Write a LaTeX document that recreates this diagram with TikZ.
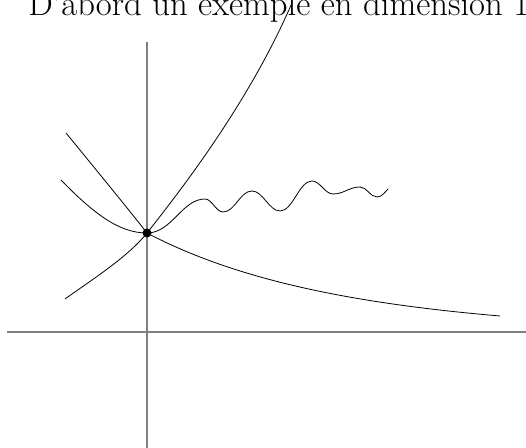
\documentclass[tikz,border=0pt]{standalone}
\usepackage{tikz}

\begin{document}
\begin{tikzpicture}[x=0.75pt,y=0.75pt,yscale=-1,xscale=1]
\useasboundingbox (0,0) rectangle (526,448);
\clip (0,0) rectangle (526,448);

% Axes
\coordinate (xl) at (7,332);
\coordinate (xr) at (526,332);
\coordinate (yb) at (147,448);
\coordinate (yt) at (147,42);
\draw [color={rgb, 255:red, 128; green, 128; blue, 128 }, line width=1]  (xl) -- (xr) ;
\draw [color={rgb, 255:red, 128; green, 128; blue, 128 }, line width=1]  (yb) -- (yt) ;

% Common point
\coordinate (p0) at (147,233);

%Curve increasing
\draw [line width=0.6]  (65,299) .. controls (90,281) and (128,257) .. (p0) .. controls (185,185) and (250,100) .. (292,3) ;
%Curve decreasing
\draw [line width=0.6]  (66,133) .. controls (93,166) and (125,205) .. (p0) .. controls (240,282) and (360,304) .. (500,316) ;
%Curve wavy
\draw [line width=0.6]  (61,180) .. controls (95,215) and (120,233) .. (p0) .. controls (172,233) and (182,199) .. (205,199) .. controls (212,199) and (216,212) .. (223,212) .. controls (235,212) and (240,191) .. (252,191) .. controls (263,191) and (269,211) .. (280,211) .. controls (293,211) and (299,181) .. (312,181) .. controls (320,181) and (325,194) .. (333,194) .. controls (344,194) and (349,187) .. (360,187) .. controls (367,187) and (370,197) .. (377,197) .. controls (382,197) and (385,192) .. (388,189) ;

\fill (p0) circle [radius=4.5] ;

% Text Node
\node [anchor=base west, inner sep=0] (title) at (28,16) {\fontsize{26}{31}\selectfont D'abord un exemple en dimension 1};

\end{tikzpicture}
\end{document}
